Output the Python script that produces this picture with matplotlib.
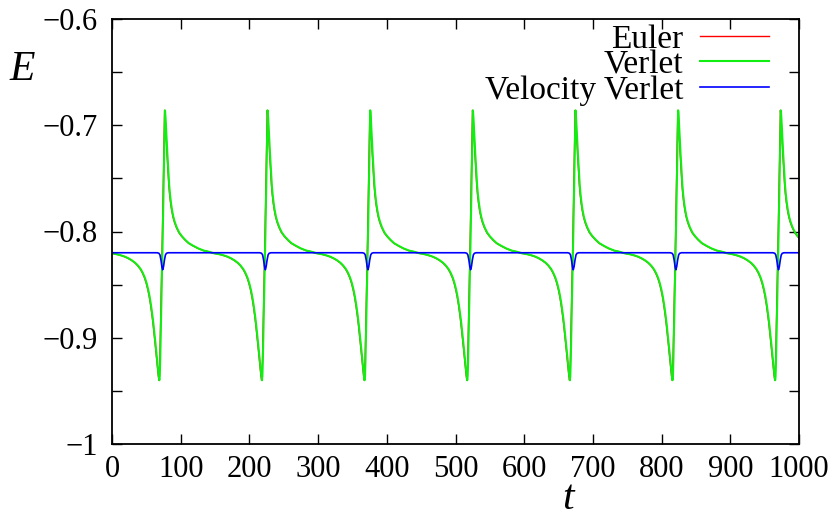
#!/bin/env python3
import numpy as np
import matplotlib
matplotlib.use('Agg')
from matplotlib import pyplot as plt

# centres of the spikes [t]
verlet_centers = [73.8, 223.2, 372.6, 522.0, 671.4, 820.8, 970.2]
euler_centers = [73.3, 222.7, 372.1, 521.5, 670.9, 820.3, 969.7]
vv_centers = [73.8, 223.2, 372.6, 522.0, 671.4, 820.8, 970.2]

# one cycle of E around a spike (offset from the centre, energy)
cycle_dt = [-74.7, -70, -65, -60, -55, -50, -45, -40, -36, -32, -29, -26, -23.5,
            -21, -19, -17, -15, -13.5, -12, -10.2, -9, -7.8, -6.8, -5.9, -5.2,
            -4.9, -4.3, -3.6, -2.0, 0.0, 1.5, 2.4, 2.9, 3.3, 3.7, 4.2, 4.8, 5.8,
            6.8, 8.2, 9.4, 10.6, 12, 13.6, 15.4, 17.5, 20.3, 24, 28, 33, 38,
            44.6, 52, 60, 67, 74.7]
cycle_E = [-0.8205, -0.8210, -0.8217, -0.8226, -0.8237, -0.8252, -0.8271, -0.8295,
           -0.8321, -0.8355, -0.8390, -0.8435, -0.8485, -0.8550, -0.8615, -0.8695,
           -0.8790, -0.8870, -0.8960, -0.9075, -0.9155, -0.9235, -0.9300, -0.9355,
           -0.9385, -0.9400, -0.9360, -0.9200, -0.870, -0.805, -0.750, -0.712,
           -0.694, -0.686, -0.689, -0.694, -0.702, -0.714, -0.727, -0.743,
           -0.756, -0.765, -0.773, -0.780, -0.786, -0.791, -0.796, -0.801,
           -0.8045, -0.808, -0.811, -0.8135, -0.816, -0.818, -0.819, -0.8205]

# velocity verlet: flat with a small dip at each spike
vv_dt = [-74.7, -8, -5.5, -4, -2.5, -1.2, 0, 1.2, 2.5, 4, 5.5, 8, 74.7]
vv_E = [-0.82, -0.82, -0.8205, -0.822, -0.827, -0.833, -0.836, -0.833, -0.827,
        -0.822, -0.8205, -0.82, -0.82]


def build(centers, dt, E):
    t_all = np.concatenate([c + np.array(dt) for c in centers])
    E_all = np.concatenate([np.array(E) for c in centers])
    return t_all, E_all


def main():
    plt.rcParams['font.family'] = ['Liberation Serif', 'DejaVu Serif']
    plt.rcParams['font.size'] = 22
    plt.rcParams['lines.solid_joinstyle'] = 'round'

    fig = plt.figure(figsize=(8.38, 5.15), dpi=100)
    ax = fig.add_axes([112/838, 1-444/515, (799-112)/838, (444-19)/515])

    t_eu, E_eu = build(euler_centers, cycle_dt, cycle_E)
    t_ve, E_ve = build(verlet_centers, cycle_dt, cycle_E)
    t_vv, E_vv = build(vv_centers, vv_dt, vv_E)

    ax.plot(t_eu, E_eu, color='#ff0000', linewidth=1.0, label='Euler')
    ax.plot(t_ve, E_ve, color='#11ee11', linewidth=1.5, label='Verlet')
    ax.plot(t_vv, E_vv, color='#0000ff', linewidth=1.2, label='Velocity Verlet')

    ax.set_xlim(0, 1000)
    ax.set_ylim(-1, -0.6)
    ax.set_xticks(np.arange(0, 1001, 100))
    ax.set_yticks([-1, -0.9, -0.8, -0.7, -0.6])
    ax.set_yticklabels(['\u22121', '\u22120.9', '\u22120.8', '\u22120.7', '\u22120.6'])
    ax.set_yticks([-0.95, -0.85, -0.75, -0.65], minor=True)
    ax.tick_params(which='both', direction='in', length=7.2, width=1.0,
                   top=True, right=True)
    ax.tick_params(axis='x', pad=8)
    ax.tick_params(axis='y', pad=10)
    for s in ax.spines.values():
        s.set_linewidth(1.3)

    leg = ax.legend(loc='upper right', bbox_to_anchor=(769/838, 1-24/515),
                    bbox_transform=fig.transFigure, frameon=False,
                    markerfirst=False, handlelength=2.07, handletextpad=0.5,
                    borderpad=0, borderaxespad=0, labelspacing=-0.15, fontsize=24)
    for txt in leg.get_texts():
        txt.set_ha('right')

    fig.text(22/838, 1-70/515, 'E', fontsize=30, style='italic', ha='center', va='center')
    fig.text(568/838, 1-509/515, 't', fontsize=30, style='italic', ha='center', va='baseline')

    fig.savefig('out.png', dpi=100)
    return 0


if __name__ == '__main__':
    main()
